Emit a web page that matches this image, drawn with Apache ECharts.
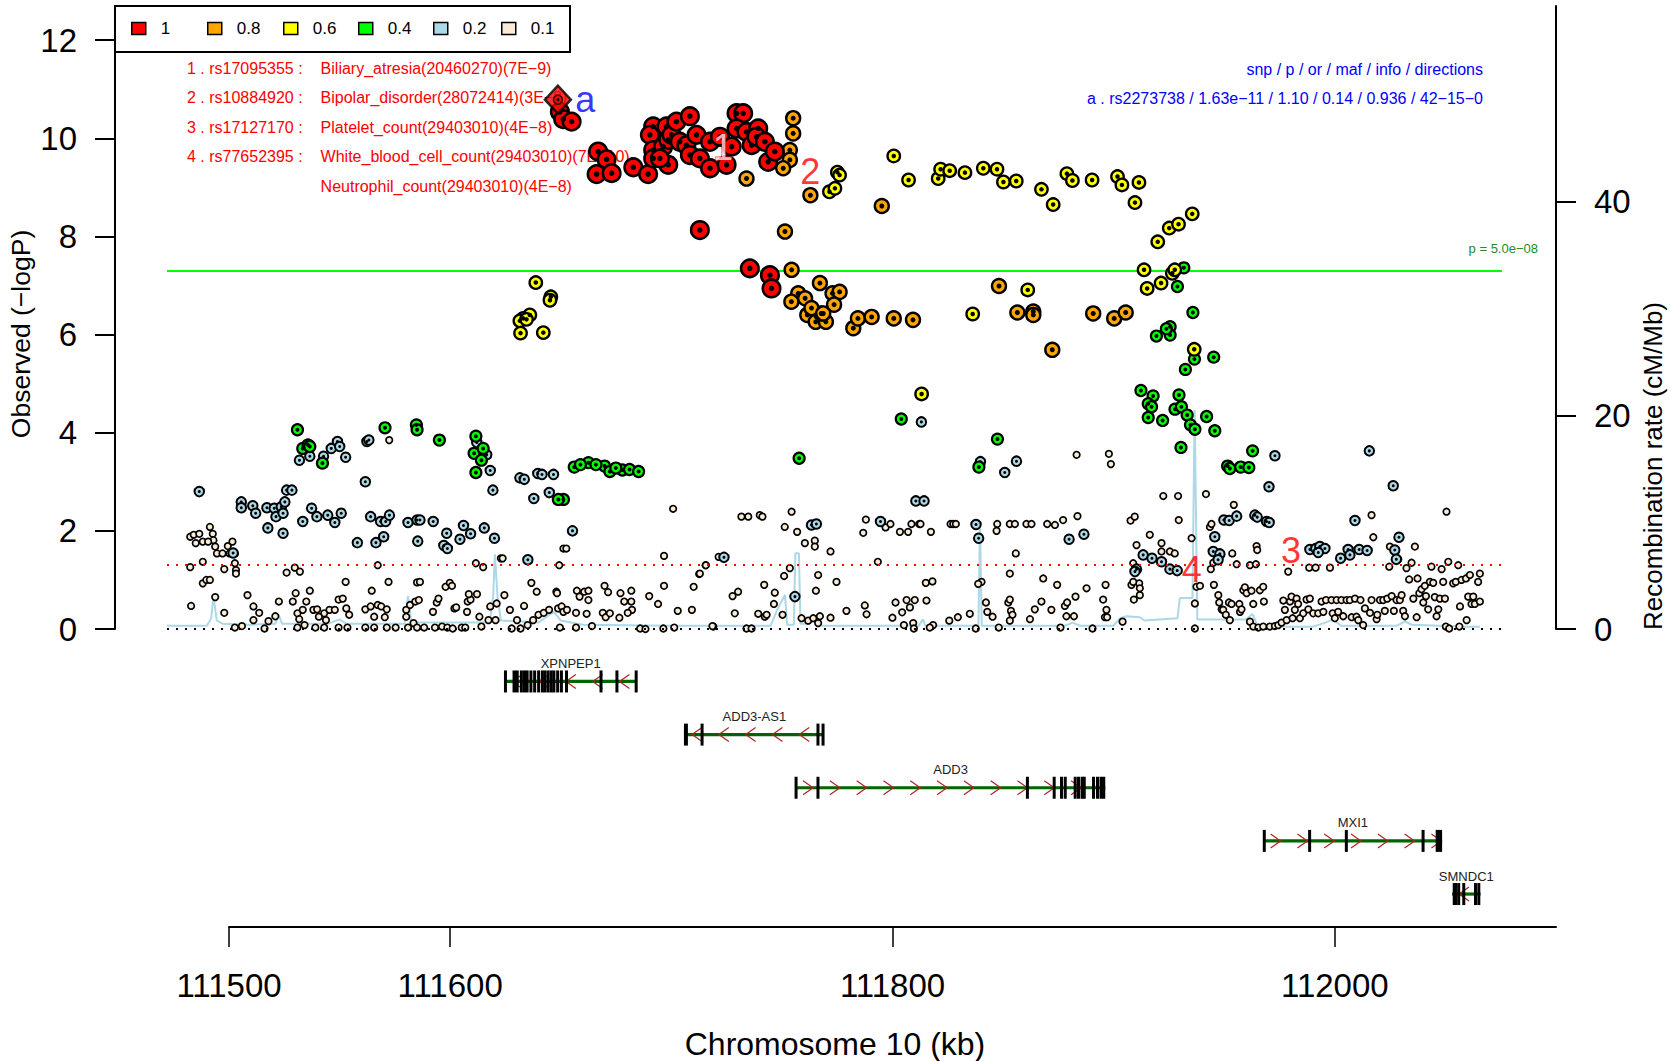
<!DOCTYPE html>
<html><head><meta charset="utf-8">
<script src="https://cdn.jsdelivr.net/npm/echarts@6/dist/echarts.min.js"></script>
<style>html,body{margin:0;padding:0;background:#fff}#c{width:1670px;height:1061px}</style>
</head><body><div id="c"></div>
<script>
// ---------- DATA (position kb, -log10 P) ----------
const ld10 = [[111649.7,10.54],[111651.2,10.39],[111655,10.34],[111667,9.73],[111670.8,9.57],[111666.3,9.27],[111673.1,9.29],[111682.9,9.41],[111689.6,9.27],[111691.9,10.24],[111690.4,10.07],[111691.9,9.76],[111691.9,9.59],[111696.4,9.83],[111697.9,10.24],[111698.7,9.97],[111698.7,9.46],[111700.2,10.07],[111702.4,10.34],[111703.9,9.93],[111706.9,9.86],[111708.5,10.45],[111708.5,9.66],[111711.5,10.07],[111713,9.59],[111717.6,9.39],[111717.6,9.93],[111722.1,10.03],[111725.1,9.46],[111727.4,9.83],[111729.6,10.51],[111732.6,10.51],[111729.6,10.2],[111734.1,10.13],[111736.4,9.86],[111739.4,10.2],[111738.6,10.03],[111742.4,9.93],[111743.9,9.52],[111746.9,9.73],[111694.9,9.59],[111713,8.13],[111735.6,7.35],[111744.7,7.21],[111745.4,6.94]];
const ld08 = [[111755.2,10.41],[111755.2,10.10],[111753.7,9.76],[111753.7,9.56],[111750.7,9.39],[111734.1,9.18],[111763.0,8.84],[111795.3,8.62],[111751.5,8.10],[111754.5,7.32],[111767.3,7.05],[111757.5,6.84],[111754.4,6.67],[111760.6,6.74],[111773,6.84],[111776.2,6.87],[111773.7,6.61],[111761.6,6.40],[111765.4,6.26],[111770,6.26],[111767.9,6.43],[111782.4,6.13],[111784.5,6.33],[111790.7,6.36],[111800.7,6.33],[111809.4,6.30],[111848.3,6.99],[111856.6,6.45],[111863.8,6.47],[111863.8,6.40],[111872.4,5.69],[111890.9,6.43],[111900.4,6.33],[111905.6,6.45],[111763.5,6.54],[111768.8,6.43]];
const ld06 = [[111775.2,9.31],[111776.2,9.25],[111771.6,8.91],[111774.1,8.98],[111800.7,9.64],[111807.4,9.15],[111820.8,9.18],[111821.9,9.37],[111826,9.34],[111832.9,9.30],[111841.2,9.39],[111847.4,9.37],[111850.3,9.11],[111856.1,9.13],[111867.5,8.96],[111872.8,8.65],[111879,9.28],[111881.5,9.14],[111890.4,9.15],[111901.9,9.22],[111903.9,9.05],[111911.6,9.10],[111909.8,8.69],[111935.7,8.46],[111925.3,8.17],[111929.5,8.25],[111920.1,7.89],[111913.9,7.32],[111926.7,7.25],[111927.8,7.32],[111921.6,7.05],[111915.3,6.94],[111861.3,6.91],[111836.4,6.42],[111936.6,5.70],[111813.3,4.79],[111638.8,7.06],[111645.6,6.77],[111645.2,6.70],[111636.1,6.40],[111633.1,6.33],[111631.6,6.28],[111634.6,6.31],[111631.9,6.03],[111642.2,6.04]];
const ld04 = [[111912.5,4.86],[111918,4.75],[111915.8,4.59],[111917.3,4.53],[111915.8,4.31],[111922.3,4.25],[111929.7,4.77],[111927.9,4.48],[111930.8,4.53],[111933.4,4.36],[111934.9,4.16],[111936.9,4.07],[111930.6,3.70],[111942.2,4.33],[111945.9,4.04],[111963,3.63],[111951.7,3.32],[111952.7,3.27],[111957.6,3.30],[111961.3,3.29],[111931.9,7.36],[111929,6.98],[111936,6.45],[111919.5,5.97],[111925.7,6.16],[111925.7,5.99],[111936.7,5.50],[111945.4,5.54],[111924,6.12],[111932.6,5.29],[111531,4.06],[111533.4,3.68],[111535.8,3.75],[111536.6,3.72],[111542.3,3.38],[111570.6,4.10],[111584.8,4.16],[111585.1,4.06],[111595.2,3.85],[111611.7,3.93],[111610.9,3.58],[111615,3.68],[111614.2,3.44],[111611.7,3.19],[111651.3,2.64],[111649,2.64],[111656.2,3.30],[111662.6,3.39],[111669.9,3.32],[111672.3,3.21],[111678,3.24],[111681.2,3.25],[111685.3,3.21],[111659,3.35],[111666,3.35],[111675,3.28],[111757.9,3.48],[111804.1,4.28],[111847.6,3.87],[111839.2,3.30]];
const ld02 = [[111486.6,2.80],[111505.6,2.59],[111505.6,2.47],[111510.8,2.51],[111512.1,2.36],[111517.2,2.47],[111520.5,2.46],[111521.3,2.29],[111523.7,2.49],[111525.3,2.59],[111526.1,2.83],[111528.5,2.83],[111524.5,2.36],[111517.6,2.06],[111524.5,1.95],[111531.9,3.44],[111536.6,3.52],[111542.8,3.52],[111546.3,3.68],[111549.1,3.82],[111550.1,3.72],[111552.8,3.50],[111561.7,3.00],[111562.4,3.82],[111563.3,3.85],[111533.4,2.19],[111537.4,2.46],[111539.8,2.29],[111544.7,2.32],[111547.9,2.17],[111550.8,2.36],[111558.1,1.76],[111566.5,1.76],[111570,1.88],[111564.1,2.29],[111568.6,2.19],[111570.9,2.19],[111572.6,2.32],[111581,2.17],[111585.1,2.22],[111586.4,2.22],[111585.4,1.79],[111592.4,2.19],[111597.2,1.70],[111598.8,1.64],[111598.5,1.95],[111604.5,1.83],[111606.1,2.11],[111609.3,1.94],[111615.5,2.06],[111620.1,1.85],[111612.1,3.80],[111616.6,3.55],[111618.2,3.23],[111619.4,2.83],[111631.6,3.08],[111633.6,3.05],[111637.9,2.66],[111639.7,3.17],[111641.6,3.15],[111644.9,2.78],[111646.8,3.15],[111655.4,2.00],[111635.2,1.41],[111501.9,1.55],[111723.9,1.46],[111763.5,2.12],[111765.7,2.14],[111756,0.66],[111794.7,2.19],[111810.7,2.61],[111814.4,2.61],[111813.2,4.22],[111839.9,3.41],[111856.2,3.42],[111850.9,3.19],[111837.9,2.13],[111839.1,1.85],[111880,1.83],[111886.7,1.93],[111913.5,1.51],[111917.5,1.44],[111921.8,1.37],[111925.6,1.22],[111928.9,1.19],[111910.5,1.22],[111909.8,1.17],[111973.1,3.53],[111970.4,2.90],[112015.8,3.63],[112026.6,2.92],[112009.3,2.21],[111945.9,1.88],[111950,2.22],[111952.4,2.21],[111955.8,2.30],[111964,2.32],[111965.1,2.28],[111969.3,2.19],[111970.5,2.17],[111945.2,1.58],[111948.2,1.53],[111947.4,1.41],[111988.9,1.62],[111991.6,1.64],[111993.4,1.68],[111995.7,1.64],[111992.7,1.56],[112006.2,1.62],[112011.2,1.62],[112014.8,1.60],[112002.8,1.44],[112007,1.51],[112029.2,1.87],[112027.3,1.61],[112028,1.42]];
const ld01 = [[111482.5,1.88],[111484.1,1.92],[111486.6,1.94],[111485.0,1.75],[111488.2,1.78],[111491.4,2.08],[111492.7,1.94],[111493.0,1.81],[111490.6,1.78],[111493.8,1.68],[111494.6,1.54],[111497.1,1.54],[111499.5,1.69],[111500.3,1.54],[111501.6,1.78],[111502.7,1.54],[111488.2,1.37],[111482.5,1.26],[111502.7,1.34],[111503.2,1.20],[111503.2,1.13],[111497.9,1.22],[111488.2,0.93],[111489.8,1.00],[111491.4,1.00],[111493.8,0.65],[111482.9,0.47],[111497.9,0.33],[111502.7,0.03],[111505.9,0.06],[111508.4,0.69],[111511.1,0.46],[111513.7,0.33],[111511.1,0.18],[111516.1,0.01],[111517.9,0.16],[111521.0,0.26],[111522.6,0.56],[111526.1,1.15],[111529.8,1.25],[111532.1,1.17],[111528.9,0.56],[111530.2,0.73],[111531.0,0.32],[111533.4,0.39],[111535.0,0.56],[111536.6,0.78],[111531.8,0.20],[111531.0,0.03],[111534.2,0.08],[111538.2,0.39],[111539.9,0.40],[111543.1,0.32],[111540.7,0.25],[111543.9,0.18],[111545.5,0.39],[111547.9,0.39],[111549.6,0.60],[111551.5,0.62],[111552.8,0.96],[111553.1,0.42],[111554.4,0.29],[111539.1,0.03],[111543.1,0.03],[111549.6,0.03],[111553.6,0.03],[111561.7,0.03],[111565.7,0.03],[111561.7,0.40],[111564.1,0.46],[111565.7,0.25],[111567.3,0.49],[111568.9,0.46],[111571.4,0.40],[111570.5,0.24],[111572.2,0.96],[111564.6,0.78],[111567.3,1.30],[111572.5,3.85],[111571.4,0.03],[111575.4,0.03],[111580.2,0.39],[111581.9,0.49],[111584.3,0.56],[111585.9,0.59],[111580.2,0.25],[111581.0,0.03],[111585.1,0.95],[111586.4,0.96],[111583.5,0.12],[111585.1,0.03],[111588.3,0.03],[111592.3,0.35],[111594.0,0.54],[111594.8,0.62],[111598.0,0.86],[111599.9,0.94],[111600.9,0.88],[111593.2,0.03],[111596.4,0.05],[111598.8,0.03],[111601.2,0.01],[111605.3,0.03],[111606.9,0.03],[111602.0,0.42],[111602.8,0.44],[111607.7,0.35],[111608.0,0.56],[111609.3,0.60],[111608.5,0.71],[111612.2,0.71],[111611.7,1.34],[111615.0,1.26],[111613.3,0.25],[111614.2,0.05],[111617.4,0.18],[111618.2,0.46],[111621.1,0.52],[111620.6,0.18],[111623.0,1.44],[111623.8,1.44],[111624.6,0.69],[111627.1,0.39],[111627.9,0.01],[111630.3,0.18],[111633.5,0.47],[111631.9,0.01],[111635.1,0.08],[111636.8,0.94],[111639.2,0.76],[111637.6,0.18],[111640.0,0.29],[111642.4,0.33],[111644.8,0.39],[111648.1,0.76],[111648.4,0.73],[111648.9,0.42],[111649.4,1.30],[111651.3,1.64],[111652.6,1.64],[111650.5,0.46],[111651.3,0.35],[111652.9,0.39],[111649.7,0.03],[111657.0,0.03],[111657.4,0.78],[111658.6,0.66],[111660.7,0.76],[111662.6,0.78],[111662.6,0.59],[111657.0,0.33],[111661.8,0.31],[111664.2,0.06],[111669.1,0.33],[111669.9,0.88],[111671.5,0.75],[111670.4,0.24],[111672.3,0.32],[111677.1,0.73],[111678.8,0.56],[111682.0,0.78],[111682.0,0.56],[111682.3,0.39],[111680.4,0.33],[111676.6,0.23],[111686.0,0.01],[111688.4,0.0],[111690.1,0.67],[111694.1,0.51],[111696.8,0.88],[111696.8,1.49],[111696.5,0.01],[111701.4,0.03],[111703.0,0.37],[111700.9,2.45],[111710.2,0.86],[111709.4,0.39],[111712.7,1.12],[111715.6,1.30],[111719.1,0.05],[111721.5,1.47],
[111713.0,1.13],[111715.7,1.30],[111718.7,0.06],[111727.8,0.67],[111730.3,0.76],[111728.8,0.32],[111731.8,2.29],[111734.9,2.29],[111740.1,2.32],[111741.3,2.29],[111734.1,0.01],[111736.4,0.01],[111739.4,0.31],[111742.4,0.25],[111743.2,0.29],[111742.1,0.90],[111746.9,0.74],[111746.5,0.51],[111750.4,0.29],[111751.4,2.08],[111751.1,1.08],[111753.7,1.24],[111754.5,2.39],[111757.0,1.98],[111759.0,0.22],[111760.5,1.75],[111762.0,0.17],[111764.3,0.22],[111765.0,1.80],[111765.0,1.68],[111765.8,2.14],[111766.5,1.10],[111765.5,0.78],[111767.3,0.26],[111766.5,0.12],[111772.1,1.58],[111772.1,0.23],[111774.8,0.96],[111779.3,0.37],[111786.9,1.96],[111788.1,2.23],[111787.6,0.48],[111788.4,0.30],[111793.5,1.37],[111797.0,2.07],[111799.2,2.14],[111800.1,0.23],[111801.5,0.54],[111803.5,1.98],[111804.5,0.34],[111805.3,0.08],[111806.5,0.59],[111807.2,1.98],[111808.0,0.44],[111808.7,2.14],[111809.5,0.12],[111810.2,0.59],[111809.8,0.01],[111812.2,2.14],[111812.8,2.14],[111815.2,0.94],[111815.5,0.58],[111817.5,1.98],[111818.2,0.97],[111818.5,0.08],[111817.0,0.03],[111825.8,0.17],[111826.4,2.14],[111827.6,2.14],[111828.8,2.14],[111829.7,0.24],[111835.1,0.31],[111837.8,0.01],[111840.4,0.96],[111838.9,0.92],[111842.4,0.54],[111843.0,0.35],[111845.4,0.25],[111847.5,2.14],[111847.2,2.00],[111848.2,0.03],[111853.2,2.14],[111853.2,1.13],[111852.5,0.54],[111853.2,0.60],[111853.7,0.37],[111854.4,0.29],[111853.2,0.17],[111855.9,1.54],[111855.5,2.14],[111860.7,2.14],[111863.0,2.14],[111862.3,0.20],[111864.5,0.40],[111868.3,1.03],[111867.5,0.56],[111870.1,2.14],[111872.0,0.39],[111873.6,2.12],[111874.6,0.90],[111876.1,0.03],[111877.3,2.22],[111878.1,0.47],[111879.1,0.54],[111878.8,0.26],[111882.2,0.26],[111882.9,0.66],[111883.4,3.55],[111883.8,2.30],[111887.9,0.83],[111890.6,0.01],[111895.4,0.60],[111896.5,0.90],[111896.9,0.39],[111896.2,0.24],[111897.2,0.24],[111898.0,3.57],[111898.9,3.36],[111904.2,0.15],[111907.8,2.21],[111909.7,2.29],[111908.2,0.90],[111909.0,1.34],[111909.3,0.60],[111910.5,1.71],[111911.7,0.93],[111912.0,0.83],[111912.0,0.69],[111916.5,1.92],[111921.8,1.75],[111921.8,1.58],[111922.6,2.71],[111929.3,2.71],[111929.6,2.22],[111925.6,1.58],[111927.8,1.54],[111935.4,1.85],[111936.9,0.01],[111937.6,0.86],[111936.9,0.52],[111909.0,0.96],
[111941.9,2.75],[111939.2,0.88],[111943.7,2.08],[111944.4,2.14],[111945.2,1.35],[111944.1,1.22],[111945.5,0.90],[111947.5,0.69],[111947.9,0.54],[111949.0,0.40],[111949.7,0.39],[111950.9,0.29],[111952.7,0.18],[111952.3,0.54],[111953.5,0.51],[111954.5,2.53],[111953.8,1.54],[111955.8,1.32],[111957.0,0.51],[111957.3,0.35],[111958.0,0.40],[111958.8,0.79],[111959.5,0.85],[111960.3,0.73],[111961.8,1.30],[111962.5,0.78],[111963.3,0.51],[111964.8,1.69],[111965.1,1.61],[111964.5,1.32],[111966.3,0.79],[111967.8,0.86],[111968.1,0.56],[111961.8,0.15],[111963.3,0.05],[111965.6,0.03],[111967.8,0.05],[111970.8,0.05],[111973.1,0.06],[111974.6,0.08],[111976.1,0.13],[111976.9,0.58],[111977.6,0.39],[111978.4,0.18],[111979.1,1.17],[111979.9,0.56],[111980.6,0.66],[111981.1,0.22],[111982.1,0.39],[111982.9,0.62],[111983.6,0.51],[111984.4,0.22],[111985.9,0.32],[111987.4,0.60],[111988.2,0.40],[111988.9,0.62],[111988.6,1.25],[111990.4,0.32],[111991.5,1.25],[111992.7,0.32],[111994.2,0.56],[111995.0,0.35],[111996.2,0.59],[111998.0,1.25],[111998.7,0.59],[111999.2,0.32],[112000.2,0.22],[112001.0,0.59],[112001.7,0.35],[112003.2,0.59],[112004.0,0.26],[112005.5,0.59],[112007.0,0.59],[112007.8,0.24],[112009.3,0.62],[112010.0,0.25],[112010.8,0.18],[112011.8,0.59],[112013.0,0.08],[112013.8,0.42],[112016.1,0.33],[112016.8,0.59],[112016.8,2.32],[112017.6,1.87],[112019.1,0.20],[112019.4,0.29],[112020.6,0.59],[112022.1,0.59],[112022.8,0.37],[112023.9,0.62],[112024.8,1.27],[112025.1,1.68],[112025.9,0.67],[112026.9,0.37],[112028.1,0.59],[112028.9,1.42],[112029.6,0.59],[112030.4,0.69],[112031.1,0.37],[112031.9,0.26],[112032.6,1.24],[112033.8,1.01],[112034.9,1.35],[112035.7,0.62],[112036.4,1.68],[112037.2,0.24],[112037.6,1.03],[112038.4,0.73],[112039.4,0.81],[112040.2,0.54],[112040.9,0.88],[112041.4,0.67],[112042.4,0.40],[112043.2,0.96],[112043.9,1.27],[112044.7,0.94],[112045.4,0.65],[112046.2,0.26],[112047.0,0.40],[112047.7,0.62],[112048.5,1.22],[112049.2,0.96],[112050.0,0.62],[112050.4,0.05],[112050.7,2.39],[112051.5,1.37],[112051.9,0.01],[112053.7,0.93],[112054.9,0.96],[112056.0,1.30],[112056.5,0.05],[112056.8,0.46],[112057.5,1.00],[112059.5,1.03],[112059.8,0.18],[112060.5,0.66],[112061.3,1.10],[112062.0,0.51],[112062.8,0.66],[112063.5,0.51],[112065.0,0.96],[112065.8,1.13],[112065.8,0.56]];
const leadSnp = [[111648.8,10.788]];
// recombination rate (cM/Mb)
const recomb = [[111472,0.3],[111490,0.3],[111492,1.0],[111493,3.1],[111494.5,0.8],[111497,0.5],[111510,0.4],[111521,0.5],[111522.6,1.3],[111524,0.5],[111545,0.5],[111550,0.9],[111553,0.5],[111579.5,0.5],[111581,3.1],[111582.5,0.6],[111618,0.6],[111619.5,3.0],[111620.3,7.0],[111621.5,3.0],[111623,0.8],[111640,0.6],[111644,1.2],[111647,1.6],[111650,0.8],[111660,0.4],[111700,0.3],[111745,0.3],[111748,1.8],[111751.5,3.2],[111752.5,0.4],[111755.5,0.4],[111756.2,7.1],[111757.8,7.1],[111758.5,0.5],[111762,0.5],[111764,1.0],[111766.4,1.3],[111768,0.3],[111812,0.3],[111813.9,0.9],[111815,0.3],[111839,0.3],[111839.7,9.8],[111840.5,0.3],[111878,0.3],[111881.7,0.6],[111885,0.3],[111900,0.3],[111903,1.0],[111906,1.2],[111912,1.1],[111914,0.8],[111929,1.0],[111930.1,2.9],[111935.8,2.9],[111936.8,20.5],[111938,0.9],[111950,0.9],[111960,0.9],[111963,1.4],[111965,0.4],[111975,0.2],[111990,0.2],[111996,0.6],[111999.3,0.9],[112003,0.3],[112028,0.3],[112031.9,0.7],[112035,0.4],[112060,0.2],[112065.8,0.2]];
// annotation markers
const annotText = ['1','2','3','4','a'];
const annotX = [111723.5,111762.9,111980.4,111935.5,111661.2];
const annotY = [9.82,9.32,1.60,1.21,10.80];
// genes: name, start, end, strand, row
const genes = [['XPNPEP1',111624.9,111684.1,-1,0],['ADD3-AS1',111706.2,111768.9,-1,1],['ADD3',111756.4,111896.2,1,2],['MXI1',111967.8,112048.5,1,3],['SMNDC1',112053.0,112065.9,-1,4]];
const exons = {
 'XPNPEP1':[[111625.0,111625.6],[111628.2,111631.0],[111632.2,111632.2],[111633.6,111633.6],[111634.8,111634.8],[111636.5,111636.5],[111638.2,111638.2],[111640.0,111640.0],[111641.7,111641.7],[111642.9,111642.9],[111644.3,111644.3],[111645.7,111645.7],[111646.9,111646.9],[111648.6,111648.6],[111650.3,111650.3],[111652.6,111652.6],[111668.2,111668.2],[111675.4,111675.4],[111684.1,111684.1]],
 'ADD3-AS1':[[111705.7,111707.5],[111713.9,111713.9],[111766.3,111766.3],[111768.6,111768.6]],
 'ADD3':[[111756.4,111756.4],[111766.3,111766.3],[111861.0,111861.0],[111873.1,111873.1],[111876.4,111876.8],[111878.1,111878.9],[111882.6,111882.6],[111884.1,111884.1],[111885.7,111885.7],[111886.7,111886.7],[111890.9,111890.9],[111892.7,111892.7],[111893.6,111896.2]],
 'MXI1':[[111968.1,111968.1],[111988.6,111988.6],[112005.2,112005.2],[112039.9,112039.9],[112045.6,112048.5]],
 'SMNDC1':[[112053.3,112055.3],[112056.0,112056.0],[112058.3,112059.0],[112063.6,112063.6],[112065.1,112065.1]]
};
const legendNames = ['1','0.8','0.6','0.4','0.2','0.1'];
const legendColors = ['#FF0000','#FFA500','#FFFF00','#00FF00','#ADD8E6','#FAEBD7'];
const yTicks = [0,2,4,6,8,10,12];
const rTicks = [0,20,40];
const xTicks = [111500,111600,111800,112000];

// ---------- CHART ----------
const F = 'Liberation Sans, Arial, Helvetica, sans-serif';
const chart = echarts.init(document.getElementById('c'), null, {renderer:'svg'});

function ptSeries(name, data, size, bw, z){
  return {type:'scatter', name:name, xAxisIndex:0, yAxisIndex:0, data:data, symbol:'circle', symbolSize:size, z:z,
    itemStyle:{color:legendColors[legendNames.indexOf(name)], borderColor:'#000', borderWidth:bw, opacity:1}, silent:true};
}
function dotSeries(data, size, z){
  return {type:'scatter', name:'dot'+z, xAxisIndex:0, yAxisIndex:0, data:data, symbol:'circle', symbolSize:size, z:z,
    itemStyle:{color:'#000', borderWidth:0, opacity:1}, silent:true};
}
const intFmt = v => (Math.abs(v - Math.round(v)) < 1e-6 ? String(Math.round(v)) : '');

const legendLeft = [131,207,283,358,433,501];
const legends = legendNames.map((n,i) => ({
  data:[n], left:legendLeft[i], top:20, orient:'horizontal', icon:'rect', itemWidth:14, itemHeight:12, selectedMode:false,
  padding:0, itemStyle:{borderColor:'#000', borderWidth:1.5},
  textStyle:{fontSize:17, color:'#000', fontFamily:F, padding:[0,0,0,10]}
}));

function geneRender(params, api){
  const g = genes[params.dataIndex];
  const a = api.coord([g[1], g[4]]), b = api.coord([g[2], g[4]]);
  const y = a[1];
  const ch = [];
  ch.push({type:'line', shape:{x1:a[0], y1:y, x2:b[0], y2:y}, style:{stroke:'#006400', lineWidth:3.2}});
  for (let x = a[0] + 12; x < b[0] - 4; x += 26.8) {
    const d = g[3] > 0 ? 1 : -1;
    ch.push({type:'polyline', shape:{points:[[x - 5*d, y - 7],[x + 5*d, y],[x - 5*d, y + 7]]}, style:{stroke:'#B22222', lineWidth:1.2, fill:null}});
  }
  for (const e of exons[g[0]]) {
    const p = api.coord([e[0], g[4]])[0], q = api.coord([e[1], g[4]])[0];
    const w = Math.max(3, q - p);
    ch.push({type:'rect', shape:{x:(q - p < 3 ? p - 1.5 : p), y:y - 11, width:w, height:22}, style:{fill:'#000'}});
  }
  ch.push({type:'text', style:{text:g[0], x:(a[0] + b[0]) / 2, y:y - 18, align:'center', verticalAlign:'middle', fontSize:13, fill:'#222', fontFamily:F}});
  return {type:'group', children:ch};
}

const txt = (t, x, y, o) => Object.assign({type:'text', z:1, style:Object.assign({text:t, x:x, y:y, fontSize:16, fontFamily:F, fill:'#FF0000', verticalAlign:'middle', align:'left'}, o || {})});

const option = {
  animation:false,
  backgroundColor:'#fff',
  legend: legends,
  grid:[
    {left:167, top:6, width:1335, height:623},
    {left:229, top:640, width:1327, height:287}
  ],
  xAxis:[
    {type:'value', gridIndex:0, min:111472, max:112075.8, show:false},
    {type:'value', gridIndex:1, min:111500, max:112100, position:'bottom', interval:100,
     splitLine:{show:false},
     axisLine:{show:true, onZero:false, lineStyle:{color:'#000', width:2}},
     axisTick:{show:true, length:20, lineStyle:{color:'#000', width:1.5}, customValues:xTicks},
     axisLabel:{customValues:xTicks, fontSize:33, color:'#000', fontFamily:F, margin:42, formatter:v => String(v)}}
  ],
  yAxis:[
    {type:'value', gridIndex:0, min:0, max:12.696, interval:2, position:'left', offset:52,
     splitLine:{show:false},
     axisLine:{show:true, lineStyle:{color:'#000', width:2}},
     axisTick:{show:true, length:20, lineStyle:{color:'#000', width:2}, customValues:yTicks},
     axisLabel:{customValues:yTicks, fontSize:33, color:'#000', fontFamily:F, margin:38, formatter:intFmt}},
    {type:'value', gridIndex:0, min:0, max:58.33, interval:20, position:'right', offset:54,
     splitLine:{show:false},
     axisLine:{show:true, lineStyle:{color:'#000', width:2}},
     axisTick:{show:true, length:20, lineStyle:{color:'#000', width:2}, customValues:rTicks},
     axisLabel:{customValues:rTicks, fontSize:33, color:'#000', fontFamily:F, margin:38, formatter:intFmt}},
    {type:'value', gridIndex:1, min:-0.78, max:4.62, inverse:true, show:false}
  ],
  series:[
    {type:'line', name:'recomb', xAxisIndex:0, yAxisIndex:1, data:recomb, showSymbol:false, symbol:'none', z:1, silent:true,
     lineStyle:{color:'#ADD8E6', width:2}},
    {type:'scatter', name:'refLines', xAxisIndex:0, yAxisIndex:0, data:[], z:1, silent:true,
     markLine:{silent:true, symbol:['none','none'], label:{show:false}, animation:false,
       data:[
         {yAxis:0, lineStyle:{color:'#000', type:[2,7], width:2}},
         {yAxis:1.301, lineStyle:{color:'#FF0000', type:[2,7], width:2}},
         {yAxis:7.301, lineStyle:{color:'#00FF00', type:'solid', width:2}}
       ]}},
    ptSeries('0.1', ld01, 6.5, 1.7, 3),
    ptSeries('0.2', ld02, 9.5, 2, 4), dotSeries(ld02, 3, 5),
    ptSeries('0.4', ld04, 11, 2.2, 6), dotSeries(ld04, 4, 7),
    ptSeries('0.6', ld06, 12.5, 2.3, 8), dotSeries(ld06, 4.5, 9),
    ptSeries('0.8', ld08, 14, 2.4, 10), dotSeries(ld08, 5, 11),
    ptSeries('1', ld10, 17.5, 2.6, 12), dotSeries(ld10, 5.5, 13),
    {type:'scatter', name:'lead', xAxisIndex:0, yAxisIndex:0, data:leadSnp, symbol:'diamond', symbolSize:[26,28], z:14, silent:true,
     itemStyle:{color:'#FF0000', borderColor:'#000', borderWidth:2.5}},
    {type:'scatter', name:'leadRing', xAxisIndex:0, yAxisIndex:0, data:leadSnp, symbol:'circle', symbolSize:9, z:15, silent:true,
     itemStyle:{color:'#FF0000', borderColor:'#000', borderWidth:1.5}},
    dotSeries(leadSnp, 3, 16),
    {type:'scatter', name:'annot', xAxisIndex:0, yAxisIndex:0, symbolSize:0.01, z:20, silent:true,
     itemStyle:{color:'rgba(0,0,0,0)'},
     label:{show:true, position:'inside', formatter:'{b}', fontSize:36, color:'#FF0000', fontFamily:F},
     data:annotText.map((t,i) => ({name:t, value:[annotX[i], annotY[i]],
       label: t === 'a' ? {color:'#0000FF'} : (t === '1' ? {color:'#FFE8E8', textBorderColor:'#FF0000', textBorderWidth:1.2} : {})}))},
    {type:'custom', name:'genes', xAxisIndex:1, yAxisIndex:2, renderItem:geneRender, silent:true, z:5,
     encode:{x:[0,1], y:2}, data:genes.map(g => [g[1], g[2], g[4]])}
  ],
  graphic:[
    {type:'rect', z:5, shape:{x:115, y:6, width:455, height:46}, style:{fill:'none', stroke:'#000', lineWidth:2}},
    txt('1 . rs17095355 :', 187, 68), txt('2 . rs10884920 :', 187, 97), txt('3 . rs17127170 :', 187, 127), txt('4 . rs77652395 :', 187, 156.5),
    txt('Biliary_atresia(20460270)(7E\u22129)', 320.6, 68),
    txt('Bipolar_disorder(28072414)(3E\u22128)', 320.6, 97),
    txt('Platelet_count(29403010)(4E\u22128)', 320.6, 127),
    txt('White_blood_cell_count(29403010)(7E\u221210)', 320.6, 156.5),
    txt('Neutrophil_count(29403010)(4E\u22128)', 320.6, 186),
    txt('snp / p / or / maf / info / directions', 1483, 69, {fill:'#0000FF', align:'right'}),
    txt('a . rs2273738 / 1.63e\u221211 / 1.10 / 0.14 / 0.936 / 42\u221215\u22120', 1483, 98, {fill:'#0000FF', align:'right'}),
    txt('p = 5.0e\u221208', 1538, 248, {fill:'#228B22', align:'right', fontSize:13}),
    {type:'text', z:1, x:21, y:334, rotation:Math.PI/2, style:{text:'Observed (\u2212logP)', x:0, y:0, align:'center', verticalAlign:'middle', fontSize:26.5, fontFamily:F, fill:'#000'}},
    {type:'text', z:1, x:1653, y:466, rotation:Math.PI/2, style:{text:'Recombination rate (cM/Mb)', x:0, y:0, align:'center', verticalAlign:'middle', fontSize:26, fontFamily:F, fill:'#000'}},
    {type:'text', z:1, style:{text:'Chromosome 10 (kb)', x:835, y:1044, align:'center', verticalAlign:'middle', fontSize:32, fontFamily:F, fill:'#000'}}
  ]
};
chart.setOption(option);
</script>
</body></html>
